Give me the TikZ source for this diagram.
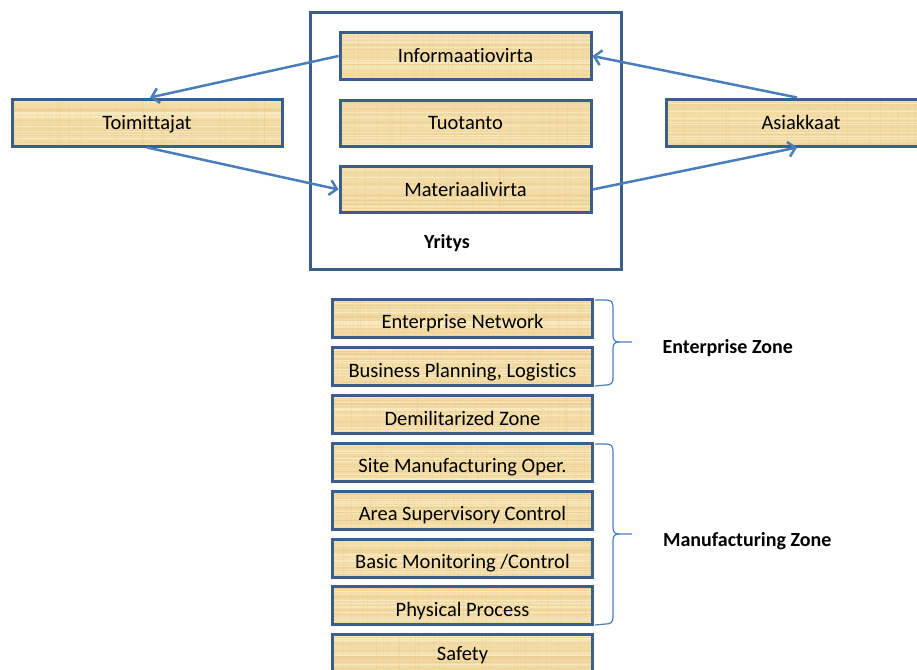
\documentclass[tikz,border=0pt]{standalone}
\usepackage{fontspec}
\setmainfont{Carlito}[Ligatures={NoCommon}]
\usetikzlibrary{arrows.meta,calc}

\definecolor{edgeblue}{HTML}{3B5E8C}
\definecolor{flowblue}{HTML}{4A7EBB}
\definecolor{papyrus}{HTML}{F3DCA6}
\definecolor{grainlight}{HTML}{FAEBC6}
\definecolor{graindark}{HTML}{E6CB8E}

\tikzset{
  grain/.style={
    path picture={
      \foreach \k in {1,...,16}{
        \pgfmathsetmacro\ry{rnd}
        \pgfmathsetmacro\rw{0.4+0.8*rnd}
        \draw[graindark, opacity=0.4, line width=\rw pt]
          ($(path picture bounding box.south west)!\ry!(path picture bounding box.north west)$)
          -- ++(400,0);
      }
      \foreach \k in {1,...,10}{
        \pgfmathsetmacro\ry{rnd}
        \draw[grainlight, opacity=0.8, line width=0.8pt]
          ($(path picture bounding box.south west)!\ry!(path picture bounding box.north west)$)
          -- ++(400,0);
      }
      \foreach \k in {1,...,40}{
        \pgfmathsetmacro\rx{rnd}
        \draw[graindark, opacity=0.2, line width=0.5pt]
          ($(path picture bounding box.south west)!\rx!(path picture bounding box.south east)$)
          -- ++(0,-80);
      }
    }
  },
  pbox/.style={draw=edgeblue, line width=3pt, fill=papyrus, grain,
    inner sep=0pt, font=\fontsize{20.5}{24}\selectfont, text=black,
    text height=13pt, text depth=0pt},
  topbox/.style={pbox, minimum width=251pt, minimum height=46pt},
  sidebox/.style={pbox, minimum width=270pt, minimum height=47pt},
  layerbox/.style={pbox, minimum width=260pt, minimum height=38pt,
    text height=21.5pt},
  flow/.style={draw=flowblue, line width=2.5pt,
    -{Straight Barb[length=7pt, width=15pt, line width=2.5pt]}},
  zonebrace/.style={draw=flowblue, line width=1.2pt},
  zonelabel/.style={font=\fontsize{20}{24}\selectfont\bfseries, anchor=base west},
}

\begin{document}
\begin{tikzpicture}[x=1pt, y=-1pt]
  \pgfmathsetseed{4711}
  \useasboundingbox (0,0) rectangle (917,669);

  % the company frame
  \node[draw=edgeblue, line width=3pt, minimum width=311pt, minimum height=256pt,
        inner sep=0pt] (yritys) at (465.5,141) {};
  \node[font=\fontsize{20}{24}\selectfont\bfseries, anchor=base] (yrityslabel)
    at (447,248) {Yritys};

  % flows inside the company
  \node[topbox] (info) at (465.5,56)    {Informaatiovirta};
  \node[topbox] (tuot) at (465.5,123)   {Tuotanto};
  \node[topbox] (mat)  at (465.5,189.5) {Materiaalivirta};

  % suppliers and customers
  \node[sidebox] (toim) at (147,122.5) {Toimittajat};
  \node[sidebox] (asi)  at (801,122.5) {Asiakkaat};

  % information and material flows
  \draw[flow] (info.west) -- ([xshift=3pt]toim.north);
  \draw[flow] (toim.south) -- (mat.west);
  \draw[flow] ([xshift=-4pt]asi.north) -- (info.east);
  \draw[flow] (mat.east) -- ([xshift=-4pt]asi.south);

  % network layers
  \node[layerbox] (ent)  at (462.5,318)   {Enterprise Network};
  \node[layerbox] (bus)  at (462.5,366.9) {Business Planning, Logistics};
  \node[layerbox] (dmz)  at (462.5,414.3) {Demilitarized Zone};
  \node[layerbox] (site) at (462.5,462.2) {Site Manufacturing Oper.};
  \node[layerbox] (area) at (462.5,510.1) {Area Supervisory Control};
  \node[layerbox] (basic) at (462.5,558)  {Basic Monitoring /Control};
  \node[layerbox] (phys) at (462.5,605.4) {Physical Process};
  \node[layerbox, text height=14pt] (safe) at (462.5,653) {Safety};

  % zone braces
  \coordinate (entTip) at (632,342);
  \coordinate (manTip) at (632,534);
  \draw[zonebrace] (595,300) -- (606,300) .. controls (611,300) and (613,302) .. (613,307)
     -- (613,336) .. controls (613,340) and (615,342) .. (619,342) -- (entTip);
  \draw[zonebrace] (595,386) -- (606,385) .. controls (611,385) and (613,383) .. (613,378)
     -- (613,348) .. controls (613,344) and (615,342) .. (619,342);
  \draw[zonebrace] (595,444) -- (606,444) .. controls (611,444) and (613,446) .. (613,451)
     -- (613,528) .. controls (613,532) and (615,534) .. (619,534) -- (manTip);
  \draw[zonebrace] (595,625) -- (606,624) .. controls (611,624) and (613,622) .. (613,617)
     -- (613,540) .. controls (613,536) and (615,534) .. (619,534);

  \node[zonelabel] (entzone) at (659,353.5) {Enterprise Zone};
  \node[zonelabel] (manzone) at (659.5,546.5) {Manufacturing Zone};
\end{tikzpicture}
\end{document}
